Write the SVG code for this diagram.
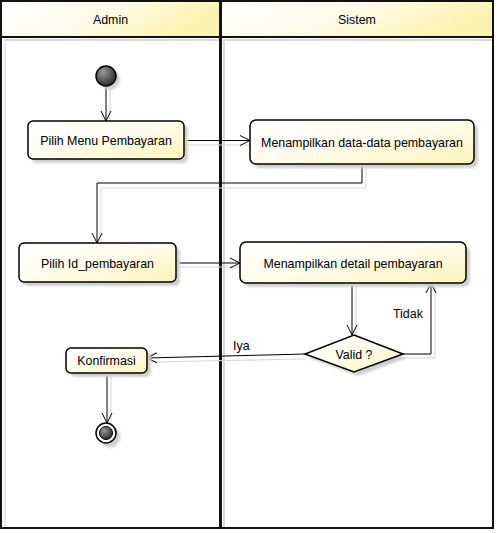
<svg xmlns="http://www.w3.org/2000/svg" width="497" height="533" viewBox="0 0 497 533">
<defs>
<linearGradient id="g" x1="0" y1="0" x2="1" y2="1">
<stop offset="0" stop-color="#ffffff"/>
<stop offset="0.45" stop-color="#fffdf0"/>
<stop offset="1" stop-color="#fcf4b8"/>
</linearGradient>
<linearGradient id="hg" x1="0" y1="0" x2="1" y2="0.3">
<stop offset="0" stop-color="#ffffff"/>
<stop offset="0.5" stop-color="#fffcec"/>
<stop offset="1" stop-color="#fdf3b0"/>
</linearGradient>
<radialGradient id="dot" cx="0.35" cy="0.3" r="0.8">
<stop offset="0" stop-color="#9a9a9a"/>
<stop offset="1" stop-color="#202020"/>
</radialGradient>
<filter id="blur" x="-20%" y="-20%" width="140%" height="140%"><feGaussianBlur stdDeviation="1.2"/></filter>
<marker id="arr" markerWidth="12" markerHeight="12" refX="10" refY="6" orient="auto" markerUnits="userSpaceOnUse">
<path d="M0,1 L10,6 L0,11" fill="none" stroke="#000" stroke-width="1"/>
</marker>
</defs>
<style>
.lane{fill:none;stroke:#111;stroke-width:2}
.hdr{fill:url(#hg);stroke:#111;stroke-width:2}
.node{fill:url(#g);stroke:#000;stroke-width:1.5}
.sh{fill:#d0d0d0;stroke:none;filter:url(#blur)}
.shl{fill:none;stroke:#d6d6d6;stroke-width:1}
.c{fill:none;stroke:#000;stroke-width:1}
.t{font-family:"Liberation Sans",Arial,sans-serif;font-size:12.4px;fill:#000}
</style>
<rect x="0" y="0" width="497" height="533" fill="#fff"/>
<g id="lanes">
<line x1="224" y1="40" x2="224" y2="529" stroke="#d8d8d8" stroke-width="2"/>
<line x1="5" y1="40" x2="5" y2="529" stroke="#e0e0e0" stroke-width="1.5"/>
<line x1="4" y1="40" x2="219" y2="40" stroke="#d8d8d8" stroke-width="2"/>
<line x1="224" y1="40" x2="492" y2="40" stroke="#d8d8d8" stroke-width="2"/>
<rect class="hdr" x="1" y="1" width="219" height="36"/>
<rect class="hdr" x="221" y="1" width="272" height="36"/>
<rect class="lane" x="1" y="1" width="219" height="527"/>
<rect class="lane" x="221" y="1" width="272" height="527"/>
<text class="t" x="110.5" y="24" text-anchor="middle">Admin</text>
<text class="t" x="357" y="24" text-anchor="middle">Sistem</text>
</g>
<g id="connectors">
<g class="shl">
<line x1="110" y1="90" x2="110" y2="124"/>
<line x1="184" y1="145" x2="254" y2="145"/>
<polyline points="366,164 366,188 101,188 101,247"/>
<line x1="176" y1="267" x2="244" y2="267"/>
<line x1="356" y1="283" x2="356" y2="339"/>
<polyline points="403,358 435,358 435,287"/>
<line x1="305" y1="359" x2="151" y2="362"/>
<line x1="111" y1="373" x2="111" y2="426"/>
</g>
<line class="c" x1="106" y1="86" x2="106" y2="121" marker-end="url(#arr)"/>
<line class="c" x1="184" y1="140.5" x2="250" y2="140.5" marker-end="url(#arr)"/>
<polyline class="c" points="362,164 362,183 97,183 97,243" marker-end="url(#arr)"/>
<line class="c" x1="176" y1="263" x2="240" y2="263" marker-end="url(#arr)"/>
<line class="c" x1="352" y1="283" x2="352" y2="335" marker-end="url(#arr)"/>
<polyline class="c" points="403,354 431,354 431,283" marker-end="url(#arr)"/>
<line class="c" x1="305" y1="354" x2="147" y2="358" marker-end="url(#arr)"/>
<line class="c" x1="107" y1="373" x2="107" y2="423" marker-end="url(#arr)"/>
<text class="t" x="393" y="318">Tidak</text>
<text class="t" x="233" y="350">Iya</text>
</g>
<g id="start">
<circle class="sh" cx="110" cy="80" r="10"/>
<circle cx="106" cy="76" r="10" fill="url(#dot)" stroke="#000" stroke-width="1.5"/>
</g>
<g id="pilih-menu">
<rect class="sh" x="32" y="125" width="156" height="38" rx="5"/>
<rect class="node" x="28" y="121" width="156" height="38" rx="5"/>
<text class="t" x="106" y="145" text-anchor="middle">Pilih Menu Pembayaran</text>
</g>
<g id="menampilkan-data">
<rect class="sh" x="254" y="124" width="224" height="44" rx="6"/>
<rect class="node" x="250" y="120" width="224" height="44" rx="6"/>
<text class="t" x="362" y="146.5" text-anchor="middle">Menampilkan data-data pembayaran</text>
</g>
<g id="pilih-id">
<rect class="sh" x="23" y="247" width="157" height="39" rx="5"/>
<rect class="node" x="19" y="243" width="157" height="39" rx="5"/>
<text class="t" x="97.5" y="267.5" text-anchor="middle">Pilih Id_pembayaran</text>
</g>
<g id="menampilkan-detail">
<rect class="sh" x="244" y="246" width="226" height="41" rx="6"/>
<rect class="node" x="240" y="242" width="226" height="41" rx="6"/>
<text class="t" x="353" y="267.5" text-anchor="middle">Menampilkan detail pembayaran</text>
</g>
<g id="valid">
<polygon class="sh" points="358,339 407,358 358,376 309,358"/>
<polygon class="node" points="354,335 403,354 354,372 305,354"/>
<text class="t" x="354" y="358.5" text-anchor="middle">Valid ?</text>
</g>
<g id="konfirmasi">
<rect class="sh" x="70" y="352" width="81" height="25" rx="5"/>
<rect class="node" x="66" y="348" width="81" height="25" rx="5"/>
<text class="t" x="106.5" y="365" text-anchor="middle">Konfirmasi</text>
</g>
<g id="end">
<circle class="sh" cx="110" cy="437" r="10.5"/>
<circle cx="106" cy="433" r="10" fill="#fff" stroke="#000" stroke-width="1.5"/>
<circle cx="106" cy="433" r="6.5" fill="url(#dot)" stroke="#000" stroke-width="1"/>
</g>
</svg>
